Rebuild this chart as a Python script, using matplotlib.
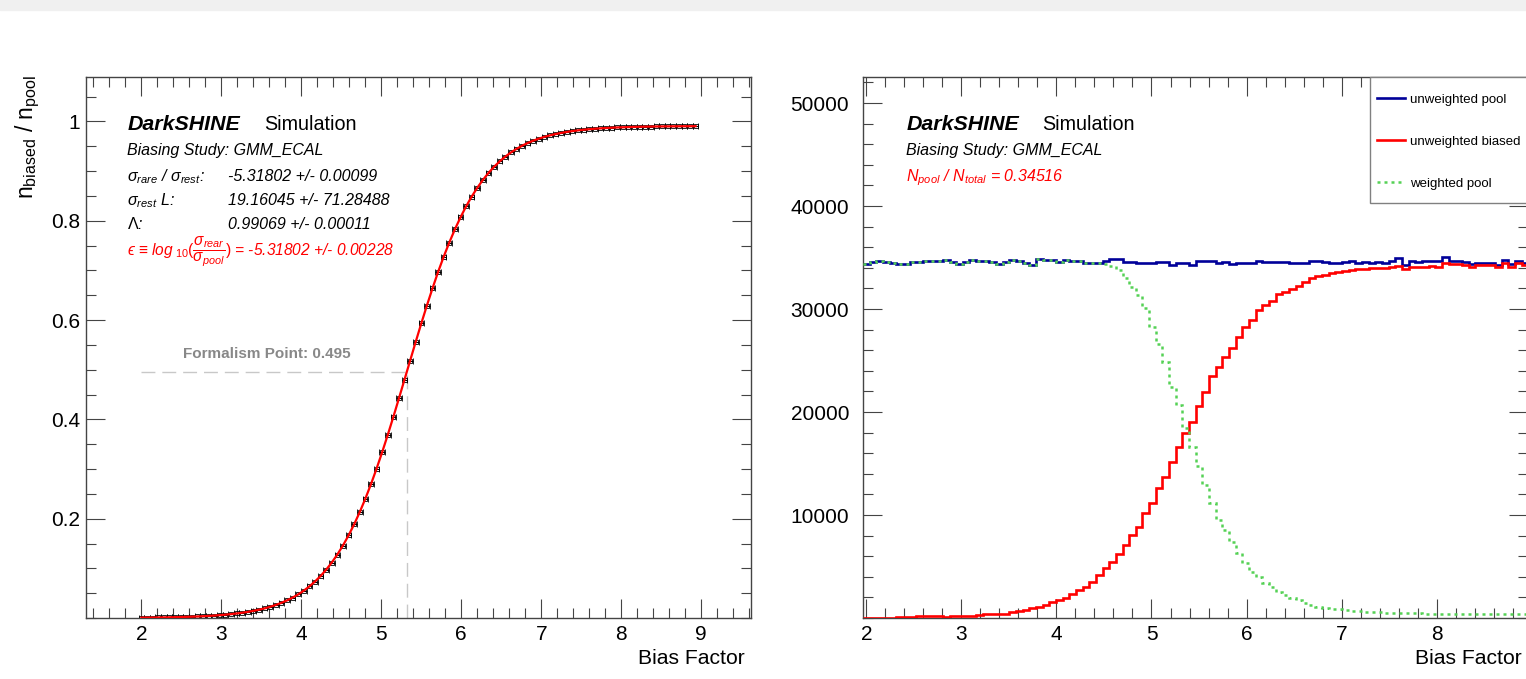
import matplotlib.pyplot as plt
import numpy as np
from matplotlib.ticker import MultipleLocator, FixedLocator
from matplotlib.patches import Rectangle
from matplotlib.lines import Line2D

plt.rcParams['font.family'] = ['Liberation Sans', 'DejaVu Sans']
plt.rcParams['mathtext.fontset'] = 'custom'
plt.rcParams['mathtext.rm'] = 'Liberation Sans'
plt.rcParams['mathtext.it'] = 'Liberation Sans:italic'
plt.rcParams['mathtext.bf'] = 'Liberation Sans:bold'

# bias factor scan: 2.00, 2.07, ..., 8.93
bias = np.round(2.0 + 0.07 * np.arange(100), 2)

# n_biased / n_pool (left panel)
ratio = [0.0007, 0.0008, 0.0009, 0.0011, 0.0012, 0.0014, 0.0017, 0.0020, 0.0023, 0.0027,
         0.0031, 0.0036, 0.0042, 0.0049, 0.0058, 0.0067, 0.0078, 0.0091, 0.0106, 0.0123,
         0.0144, 0.0167, 0.0194, 0.0226, 0.0263, 0.0305, 0.0354, 0.0410, 0.0475, 0.0550,
         0.0636, 0.0734, 0.0845, 0.0972, 0.1116, 0.1278, 0.1459, 0.1662, 0.1885, 0.2132,
         0.2401, 0.2692, 0.3004, 0.3336, 0.3684, 0.4047, 0.4421, 0.4800, 0.5181, 0.5560,
         0.5932, 0.6292, 0.6637, 0.6968, 0.7274, 0.7560, 0.7825, 0.8067, 0.8287, 0.8485,
         0.8662, 0.8820, 0.8961, 0.9085, 0.9194, 0.9289, 0.9373, 0.9445, 0.9509, 0.9564,
         0.9611, 0.9652, 0.9688, 0.9718, 0.9745, 0.9767, 0.9787, 0.9804, 0.9819, 0.9831,
         0.9842, 0.9851, 0.9859, 0.9866, 0.9872, 0.9877, 0.9881, 0.9885, 0.9888, 0.9891,
         0.9893, 0.9895, 0.9897, 0.9898, 0.9899, 0.9900, 0.9901, 0.9902, 0.9902, 0.9903]

# right panel histograms
pool = [34370, 34600, 34690, 34560, 34500, 34370, 34370, 34560, 34560, 34690,
        34690, 34690, 34760, 34600, 34370, 34560, 34760, 34690, 34660, 34560,
        34370, 34560, 34760, 34660, 34500, 34240, 34850, 34760, 34760, 34600,
        34760, 34690, 34690, 34500, 34500, 34500, 34690, 34820, 34820, 34600,
        34600, 34430, 34500, 34500, 34600, 34600, 34270, 34430, 34430, 34270,
        34690, 34690, 34660, 34430, 34600, 34370, 34500, 34500, 34430, 34690,
        34600, 34600, 34600, 34560, 34500, 34500, 34500, 34690, 34690, 34560,
        34500, 34430, 34600, 34660, 34500, 34560, 34430, 34600, 34500, 34660,
        34920, 34270, 34660, 34600, 34660, 34690, 34630, 35020, 34690, 34690,
        34600, 34370, 34500, 34500, 34500, 34270, 34760, 34370, 34690, 34430]

biased = [20, 25, 30, 35, 45, 55, 65, 80, 150, 160,
          160, 170, 140, 150, 220, 230, 240, 260, 340, 360,
          380, 420, 580, 700, 780, 940, 1070, 1260, 1550, 1760,
          1950, 2340, 2700, 3040, 3530, 4175, 4820, 5405, 6214, 7087,
          8058, 8867, 10162, 11133, 12589, 13722, 15178, 16634, 17994, 19061,
          20614, 21974, 23495, 24337, 25307, 26181, 27314, 28285, 28932, 29903,
          30388, 30809, 31456, 31683, 31909, 32233, 32589, 32977, 33204, 33350,
          33480, 33600, 33700, 33780, 33850, 33900, 33950, 33990, 34020, 34050,
          34175, 33854, 34100, 34050, 34120, 34150, 34080, 34499, 34337, 34330,
          34300, 34110, 34272, 34250, 34280, 34046, 34499, 34110, 34434, 34272]

weighted = [34370, 34600, 34690, 34560, 34500, 34370, 34370, 34560, 34560, 34690,
            34690, 34690, 34760, 34600, 34370, 34560, 34760, 34690, 34660, 34560,
            34370, 34560, 34760, 34660, 34500, 34240, 34850, 34760, 34760, 34600,
            34760, 34690, 34690, 34440, 34440, 34440, 34369, 34175, 33786, 32977,
            32168, 31359, 30065, 28285, 26603, 24887, 22456, 20680, 18414, 16634,
            14757, 12913, 11133, 9515, 8544, 7411, 6278, 5372, 4499, 4013,
            3430, 3042, 2556, 2233, 1909, 1748, 1489, 1262, 1100, 1000,
            920, 850, 780, 720, 670, 620, 580, 550, 520, 500,
            480, 465, 455, 445, 435, 430, 425, 420, 415, 410,
            405, 400, 395, 390, 385, 385, 380, 375, 370, 365]

formalism_x = 5.31802
formalism_y = 0.495

W, H = 1526, 679
fig = plt.figure(figsize=(W / 100, H / 100), dpi=100)


def fx(px):
    return px / W


def fy(py):
    return 1 - py / H


fig.add_artist(Rectangle((0, fy(10)), 1, 10 / H, transform=fig.transFigure,
                         color='#f0f0f0', zorder=-5))

frame_col = '#444444'


def style_axes(ax):
    for s in ax.spines.values():
        s.set_color(frame_col)
        s.set_linewidth(1.0)
    ax.tick_params(which='both', direction='in', top=True, right=True,
                   color=frame_col, width=0.8, labelsize=15)
    ax.tick_params(which='major', length=14)
    ax.tick_params(which='minor', length=7)


# ---------------- left panel ----------------
ax1 = fig.add_axes([fx(86), fy(618), fx(751) - fx(86), (618 - 77) / H])
style_axes(ax1)
ax1.set_xlim(1.307, 9.623)
ax1.set_ylim(0, 1.0893)
ax1.xaxis.set_major_locator(MultipleLocator(1))
ax1.xaxis.set_minor_locator(MultipleLocator(0.2))
ax1.yaxis.set_major_locator(FixedLocator([0.2, 0.4, 0.6, 0.8, 1.0]))
ax1.yaxis.set_minor_locator(MultipleLocator(0.05))
ax1.set_yticklabels(['0.2', '0.4', '0.6', '0.8', '1'])
ax1.tick_params(axis='x', pad=5)
ax1.tick_params(axis='y', pad=4)

ax1.plot([2.0, formalism_x], [formalism_y, formalism_y], color='#c8c8c8',
         lw=1, ls=(0, (10, 5)), zorder=1)
ax1.plot([formalism_x, formalism_x], [0, formalism_y], color='#c8c8c8',
         lw=1, ls=(0, (10, 5)), zorder=1)
ax1.text(2.52, formalism_y + 0.037, 'Formalism Point: 0.495',
         color='#888888', fontsize=11, fontweight='bold', ha='left', va='center')

ax1.errorbar(bias, ratio, xerr=0.035, fmt='s', ms=2.5, mfc='none', mec='k',
             mew=0.6, ecolor='k', elinewidth=0.8, capsize=2, capthick=0.8, zorder=2)
ax1.plot(bias, ratio, color='red', lw=1.6, zorder=3)

fig.text(fx(128), fy(130), 'DarkSHINE', fontsize=15.4, fontweight='bold',
         style='italic', va='baseline')
fig.text(fx(264), fy(130), 'Simulation', fontsize=14.2, va='baseline')
fig.text(fx(127), fy(155), 'Biasing Study: GMM_ECAL', fontsize=11.5,
         style='italic', va='baseline')
fig.text(fx(127), fy(181.5), r'$\sigma_{rare}$ / $\sigma_{rest}$:', fontsize=11.5,
         style='italic', va='baseline')
fig.text(fx(228), fy(181.5), '-5.31802 +/- 0.00099', fontsize=11.5,
         style='italic', va='baseline')
fig.text(fx(127), fy(205), r'$\sigma_{rest}$ L:', fontsize=11.5,
         style='italic', va='baseline')
fig.text(fx(228), fy(205), '19.16045 +/- 71.28488', fontsize=11.5,
         style='italic', va='baseline')
fig.text(fx(127), fy(229), r'$\mathrm{\Lambda}$:', fontsize=11.5,
         style='italic', va='baseline')
fig.text(fx(228), fy(229), '0.99069 +/- 0.00011', fontsize=11.5,
         style='italic', va='baseline')
fig.text(fx(127), fy(256),
         '\u03f5 \u2261 ' + r'$log_{\ 10}(\dfrac{\sigma_{rear}}{\sigma_{pool}})$'
         + ' = -5.31802 +/- 0.00228',
         fontsize=11.2, style='italic', color='red', va='baseline')

fig.text(fx(28), fy(75), r'$\mathregular{n_{biased}\ /\ n_{pool}}$', fontsize=16.5,
         rotation=90, ha='center', va='top')
fig.text(fx(745), fy(658), 'Bias Factor', fontsize=15.2, ha='right', va='center')

# ---------------- right panel ----------------
edges = np.append(bias - 0.035, bias[-1] + 0.035)
ax2 = fig.add_axes([fx(863), fy(618), (1528.4 - 863) / W, (618 - 77) / H])
style_axes(ax2)
ax2.set_xlim(edges[0], edges[-1])
ax2.set_ylim(0, 52527)
ax2.xaxis.set_major_locator(MultipleLocator(1))
ax2.xaxis.set_minor_locator(MultipleLocator(0.2))
ax2.yaxis.set_major_locator(FixedLocator([10000, 20000, 30000, 40000, 50000]))
ax2.yaxis.set_minor_locator(MultipleLocator(2000))
ax2.tick_params(axis='x', pad=5)
ax2.tick_params(axis='y', pad=10)

ax2.stairs(pool, edges, baseline=None, color='#000099', lw=1.9, zorder=2)
ax2.stairs(biased, edges, baseline=None, color='#ff0000', lw=1.9, zorder=3)
ax2.stairs(weighted, edges, baseline=None, color='#55d155', lw=1.8,
           ls=(0, (1.2, 1.6)), zorder=4)

# legend box (ROOT style, runs past the right edge of the canvas)
fig.add_artist(Rectangle((fx(1370), fy(203)), fx(1540) - fx(1370), (203 - 77) / H,
                         transform=fig.transFigure, facecolor='white',
                         edgecolor='#808080', lw=1.0, zorder=5))
handles = [Line2D([], [], color='#000099', lw=1.9),
           Line2D([], [], color='#ff0000', lw=1.9),
           Line2D([], [], color='#55d155', lw=1.8, ls=(0, (1.2, 1.6)))]
labels = ['unweighted pool', 'unweighted biased', 'weighted pool']
leg = fig.legend(handles, labels, loc='upper left',
                 bbox_to_anchor=(fx(1377), fy(93.5)), bbox_transform=fig.transFigure,
                 fontsize=9.5, frameon=False, borderpad=0, labelspacing=2.25,
                 handlelength=2.1, handletextpad=0.4, borderaxespad=0)
leg.set_zorder(6)

fig.text(fx(907), fy(130), 'DarkSHINE', fontsize=15.4, fontweight='bold',
         style='italic', va='baseline')
fig.text(fx(1042), fy(130), 'Simulation', fontsize=14.2, va='baseline')
fig.text(fx(906), fy(154.5), 'Biasing Study: GMM_ECAL', fontsize=11.5,
         style='italic', va='baseline')
fig.text(fx(906), fy(181.5), r'$N_{pool}$ / $N_{total}$ = 0.34516', fontsize=11.5,
         style='italic', color='red', va='baseline')
fig.text(fx(1522), fy(658), 'Bias Factor', fontsize=15.2, ha='right', va='center')

fig.savefig('out.png', dpi=100)
